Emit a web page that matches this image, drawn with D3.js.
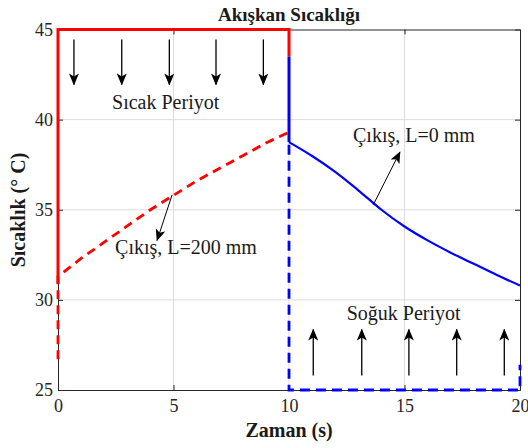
<!DOCTYPE html>
<meta charset="utf-8">
<script src="https://d3js.org/d3.v7.min.js"></script>
<style>
  body { margin: 0; background: #fff; }
  text { font-family: "Liberation Serif", "Times New Roman", serif; }
</style>
<div id="chart"></div>
<script>
// time ticks / temperature ticks
var xTicks = [0, 5, 10, 15, 20];
var yTicks = [25, 30, 35, 40, 45];

// hot inlet (red solid)
var hotInT = [0, 0, 10, 10];
var hotInV = [30.9, 45, 45, 43.5];

// outlet L=200 mm during hot period (red dashed)
var hotOutT = [0, 0, 1, 2, 3, 4, 5, 6, 7, 8, 9, 10];
var hotOutV = [26.7, 31.3, 32.3, 33.2, 34.1, 35.0, 35.8, 36.6, 37.3, 38.0, 38.7, 39.3];

// inlet L=0 mm during cold period (blue solid)
var coldInT = [10, 10, 11, 12, 13, 14, 15, 16, 17, 18, 19, 20];
var coldInV = [43.5, 38.75, 37.98, 37.1, 36.08, 35.0, 34.07, 33.3, 32.62, 32.0, 31.38, 30.8];

// outlet during cold period (blue dashed)
var coldOutT = [10, 10, 20, 20];
var coldOutV = [38.6, 25, 25, 26.4];

// flow arrows (data coords)
var downArrowX = [0.69, 2.76, 4.82, 6.84, 8.89];
var upArrowX = [11.05, 13.15, 15.19, 17.26, 19.32];

var width = 528, height = 448;
var x = d3.scaleLinear().domain([0, 20]).range([58, 520]);
var y = d3.scaleLinear().domain([25, 45]).range([390, 29.5]);

var svg = d3.select("#chart").append("svg")
  .attr("width", width)
  .attr("height", height);

var defs = svg.append("defs");
defs.append("marker")
  .attr("id", "head")
  .attr("viewBox", "0 0 12 10")
  .attr("refX", 11).attr("refY", 5)
  .attr("markerWidth", 12).attr("markerHeight", 10)
  .attr("markerUnits", "userSpaceOnUse")
  .attr("orient", "auto")
  .append("path")
  .attr("d", "M0,0 L12,5 L0,10 L3,5 Z")
  .attr("fill", "#000");

// grid
svg.append("g").selectAll("line").data(xTicks.slice(1, -1)).enter().append("line")
  .attr("x1", d => x(d)).attr("x2", d => x(d))
  .attr("y1", y(25)).attr("y2", y(45))
  .attr("stroke", "#dcdcdc").attr("stroke-width", 1);
svg.append("g").selectAll("line").data(yTicks.slice(1, -1)).enter().append("line")
  .attr("y1", d => y(d)).attr("y2", d => y(d))
  .attr("x1", x(0)).attr("x2", x(20))
  .attr("stroke", "#dcdcdc").attr("stroke-width", 1);

// axes (ticks inward)
function styleAxis(g) {
  g.select(".domain").attr("stroke", "#262626");
  g.selectAll(".tick line").attr("stroke", "#262626");
  g.selectAll("text")
    .attr("fill", "#262626")
    .style("font-size", "18px")
    .style("font-family", "'Liberation Serif', serif");
}
svg.append("g").attr("transform", "translate(0," + y(25) + ")")
  .call(d3.axisBottom(x).tickValues(xTicks).tickSizeInner(-5).tickSizeOuter(0).tickPadding(8))
  .call(styleAxis)
  .selectAll("text").attr("dy", "0.75em");
svg.append("g").attr("transform", "translate(" + x(0) + ",0)")
  .call(d3.axisLeft(y).tickValues(yTicks).tickSizeInner(-5).tickSizeOuter(0).tickPadding(5))
  .call(styleAxis);
svg.append("g").attr("transform", "translate(0," + y(45) + ")")
  .call(d3.axisTop(x).tickValues(xTicks).tickSizeInner(-5).tickSizeOuter(0).tickFormat(""))
  .call(styleAxis);
svg.append("g").attr("transform", "translate(" + x(20) + ",0)")
  .call(d3.axisRight(y).tickValues(yTicks).tickSizeInner(-5).tickSizeOuter(0).tickFormat(""))
  .call(styleAxis);

// series
var line = d3.line().x(d => x(d[0])).y(d => y(d[1]));
function zip(t, v) { return t.map((d, i) => [d, v[i]]); }

svg.append("path").datum(zip(hotOutT, hotOutV))
  .attr("d", line).attr("fill", "none")
  .attr("stroke", "#ff0000").attr("stroke-width", 2.8).attr("stroke-dasharray", "9,6");
svg.append("path").datum(zip(coldOutT, coldOutV))
  .attr("d", line).attr("fill", "none")
  .attr("stroke", "#0000ff").attr("stroke-width", 2.8).attr("stroke-dasharray", "10,6");
svg.append("path").datum(zip(hotInT, hotInV))
  .attr("d", line).attr("fill", "none")
  .attr("stroke", "#ff0000").attr("stroke-width", 3);
// vertical drop then smooth decay
var cold = zip(coldInT, coldInV);
svg.append("path").datum(cold.slice(0, 2))
  .attr("d", line).attr("fill", "none")
  .attr("stroke", "#0000ff").attr("stroke-width", 3);
svg.append("path").datum(cold.slice(1))
  .attr("d", d3.line().curve(d3.curveMonotoneX).x(d => x(d[0])).y(d => y(d[1])))
  .attr("fill", "none")
  .attr("stroke", "#0000ff").attr("stroke-width", 2.2);

// flow arrows
svg.append("g").selectAll("line").data(downArrowX).enter().append("line")
  .attr("x1", d => x(d)).attr("x2", d => x(d))
  .attr("y1", y(44.45)).attr("y2", y(41.95))
  .attr("stroke", "#000").attr("stroke-width", 1.3)
  .attr("marker-end", "url(#head)");
svg.append("g").selectAll("line").data(upArrowX).enter().append("line")
  .attr("x1", d => x(d)).attr("x2", d => x(d))
  .attr("y1", y(25.8)).attr("y2", y(28.35))
  .attr("stroke", "#000").attr("stroke-width", 1.3)
  .attr("marker-end", "url(#head)");

// annotation arrows
var pointers = [
  { from: [4.94, 35.83], to: [4.29, 33.3] },
  { from: [13.65, 35.28], to: [14.8, 38.2] }
];
svg.append("g").selectAll("line").data(pointers).enter().append("line")
  .attr("x1", d => x(d.from[0])).attr("y1", d => y(d.from[1]))
  .attr("x2", d => x(d.to[0])).attr("y2", d => y(d.to[1]))
  .attr("stroke", "#000").attr("stroke-width", 1)
  .attr("marker-end", "url(#head)");

// annotation text
var labels = [
  { t: 2.34, v: 40.6, s: "Sıcak Periyot" },
  { t: 12.5, v: 28.9, s: "Soğuk Periyot" },
  { t: 2.47, v: 32.55, s: "Çıkış, L=200 mm" },
  { t: 12.77, v: 38.76, s: "Çıkış, L=0 mm" }
];
svg.append("g").selectAll("text").data(labels).enter().append("text")
  .attr("x", d => x(d.t)).attr("y", d => y(d.v))
  .attr("fill", "#1a1a1a")
  .style("font-size", "20px")
  .text(d => d.s);

// titles
svg.append("text")
  .attr("x", 289).attr("y", 21)
  .attr("text-anchor", "middle")
  .attr("fill", "#1a1a1a")
  .style("font-size", "19px").style("font-weight", "bold")
  .text("Akışkan Sıcaklığı");
svg.append("text")
  .attr("x", 289).attr("y", 437)
  .attr("text-anchor", "middle")
  .attr("fill", "#1a1a1a")
  .style("font-size", "20px").style("font-weight", "bold")
  .text("Zaman (s)");
svg.append("text")
  .attr("transform", "translate(25,210) rotate(-90)")
  .attr("text-anchor", "middle")
  .attr("fill", "#1a1a1a")
  .style("font-size", "20px").style("font-weight", "bold")
  .text("Sıcaklık (° C)");
</script>
